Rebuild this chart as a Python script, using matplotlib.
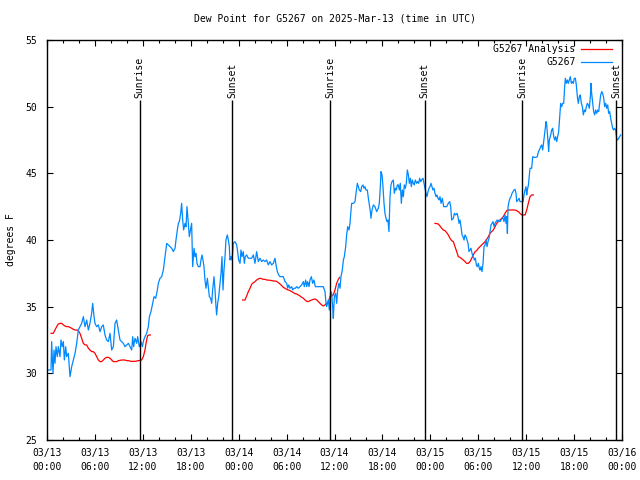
import matplotlib
matplotlib.use("Agg")
import matplotlib.pyplot as plt
from matplotlib.ticker import MultipleLocator

plt.rcParams['font.family'] = ['DejaVu Sans Mono']

title = "Dew Point for G5267 on 2025-Mar-13 (time in UTC)"
ylabel = "degrees F"

# hours since 2025-03-13 00:00 UTC
obs_hours = [0.08, 0.50, 0.58, 0.75, 0.88, 1.00, 1.13, 1.29, 1.42, 1.63, 1.75, 1.92, 2.05, 2.17, 2.34, 2.46, 2.67, 2.88, 3.09, 3.30,
             3.51, 3.72, 3.92, 4.13, 4.34, 4.55, 4.76, 4.97, 5.18, 5.38, 5.59, 5.72, 5.89, 6.01, 6.22, 6.43, 6.64, 6.85, 7.05, 7.26,
             7.47, 7.68, 7.89, 8.10, 8.31, 8.52, 8.72, 8.93, 9.14, 9.35, 9.56, 9.77, 9.98, 10.19, 10.39, 10.60, 10.73, 10.85, 11.02, 11.23,
             11.35, 11.56, 11.77, 11.94, 12.11, 12.27, 12.48, 12.69, 12.82, 13.02, 13.23, 13.40, 13.61, 13.82, 13.94, 14.15, 14.36, 14.57, 14.78, 14.99,
             15.19, 15.40, 15.61, 15.82, 16.03, 16.15, 16.32, 16.45, 16.57, 16.74, 16.86, 16.99, 17.11, 17.28, 17.41, 17.53, 17.70, 17.82, 18.11, 18.24,
             18.41, 18.53, 18.66, 18.78, 18.95, 19.16, 19.28, 19.41, 19.53, 19.66, 19.78, 19.91, 20.08, 20.20, 20.33, 20.49, 20.62, 20.74, 20.91, 21.04,
             21.16, 21.24, 21.37, 21.50, 21.66, 21.79, 21.91, 22.04, 22.16, 22.29, 22.41, 22.58, 22.71, 22.83, 22.91, 23.04, 23.17, 23.33, 23.54, 23.75,
             23.87, 24.00, 24.17, 24.29, 24.42, 24.58, 24.71, 24.83, 25.00, 25.21, 25.42, 25.63, 25.84, 26.04, 26.25, 26.46, 26.67, 26.88, 27.09, 27.30,
             27.51, 27.71, 27.92, 28.13, 28.34, 28.55, 28.68, 28.84, 29.01, 29.18, 29.39, 29.59, 29.80, 30.01, 30.14, 30.26, 30.43, 30.64, 30.76, 30.93,
             31.10, 31.26, 31.47, 31.68, 31.89, 32.10, 32.22, 32.39, 32.52, 32.64, 32.81, 32.93, 33.10, 33.27, 33.43, 33.60, 33.77, 34.18, 34.60, 34.81,
             34.94, 35.02, 35.23, 35.35, 35.52, 35.64, 35.77, 35.85, 35.98, 36.15, 36.27, 36.40, 36.56, 36.69, 36.81, 36.98, 37.11, 37.23, 37.40, 37.52,
             37.65, 37.82, 37.94, 38.07, 38.15, 38.36, 38.57, 38.69, 38.86, 38.98, 39.11, 39.28, 39.40, 39.57, 39.69, 39.82, 39.94, 40.11, 40.24, 40.36,
             40.49, 40.57, 40.70, 40.86, 41.07, 41.28, 41.49, 41.61, 41.74, 41.82, 41.95, 42.07, 42.20, 42.32, 42.45, 42.57, 42.70, 42.82, 42.95, 43.07,
             43.20, 43.37, 43.49, 43.62, 43.74, 43.87, 43.99, 44.12, 44.24, 44.37, 44.49, 44.62, 44.74, 44.87, 44.99, 45.12, 45.25, 45.37, 45.50, 45.62,
             45.75, 45.87, 45.99, 46.12, 46.29, 46.41, 46.54, 46.66, 46.79, 46.91, 47.08, 47.33, 47.46, 47.58, 47.71, 47.83, 47.96, 48.08, 48.21, 48.33,
             48.46, 48.58, 48.71, 48.83, 48.96, 49.09, 49.21, 49.34, 49.50, 49.67, 49.84, 50.05, 50.25, 50.42, 50.55, 50.67, 50.88, 51.01, 51.17, 51.34,
             51.46, 51.59, 51.71, 51.84, 51.97, 52.09, 52.22, 52.34, 52.47, 52.59, 52.72, 52.84, 52.97, 53.09, 53.22, 53.34, 53.47, 53.51, 53.64, 53.76,
             53.89, 54.01, 54.14, 54.22, 54.35, 54.47, 54.60, 54.72, 54.85, 54.97, 55.10, 55.22, 55.35, 55.48, 55.60, 55.73, 55.85, 55.98, 56.10, 56.23,
             56.35, 56.48, 56.60, 56.73, 56.85, 56.98, 57.10, 57.23, 57.35, 57.48, 57.56, 57.65, 57.73, 57.85, 57.98, 58.10, 58.23, 58.36, 58.48, 58.61,
             58.73, 58.81, 58.98, 59.11, 59.23, 59.36, 59.48, 59.61, 59.73, 59.86, 59.98, 60.07, 60.15, 60.28, 60.40, 60.48, 60.69, 60.82, 60.98, 61.23,
             61.40, 61.53, 61.65, 61.82, 61.94, 62.07, 62.24, 62.36, 62.49, 62.57, 62.69, 62.82, 62.90, 63.07, 63.20, 63.32, 63.45, 63.57, 63.70, 63.82,
             63.95, 64.07, 64.20, 64.32, 64.45, 64.57, 64.70, 64.82, 64.91, 65.03, 65.16, 65.28, 65.41, 65.53, 65.66, 65.78, 65.91, 66.03, 66.16, 66.28,
             66.41, 66.53, 66.66, 66.78, 66.91, 67.04, 67.16, 67.29, 67.41, 67.54, 67.66, 67.79, 67.91, 68.04, 68.12, 68.20, 68.33, 68.45, 68.58, 68.70,
             68.83, 68.96, 69.08, 69.21, 69.33, 69.46, 69.58, 69.71, 69.83, 69.96, 70.08, 70.21, 70.33, 70.46, 70.58, 70.71, 70.83, 70.96, 71.08, 71.21,
             71.33, 71.46, 71.58, 71.71, 71.84]
obs_values = [30.25, 30.25, 32.38, 30.0, 31.75, 30.75, 32.0, 31.25, 32.0, 31.25, 32.5, 32.0, 32.38, 31.0, 32.0, 31.25, 31.5, 29.75, 30.5, 31.0,
              31.5, 32.25, 33.25, 33.5, 33.75, 34.25, 33.5, 34.0, 33.25, 33.75, 34.5, 35.25, 34.25, 33.75, 33.5, 33.63, 33.13, 33.5, 33.63, 32.88,
              32.5, 32.38, 33.0, 31.75, 32.0, 33.75, 34.0, 33.25, 32.5, 32.38, 32.25, 32.0, 32.13, 32.25, 32.0, 31.75, 32.75, 32.0, 32.63, 32.25,
              32.75, 32.0, 32.38, 32.0, 32.5, 32.75, 33.0, 33.5, 34.25, 34.63, 35.25, 35.75, 35.63, 36.25, 36.75, 37.13, 37.25, 37.75, 38.75, 39.75,
              39.63, 39.5, 39.38, 39.13, 39.38, 40.0, 40.75, 41.25, 41.38, 42.0, 42.75, 41.5, 40.75, 41.25, 41.0, 42.5, 41.25, 40.25, 41.25, 38.0,
              39.38, 38.75, 39.0, 38.25, 38.0, 38.0, 38.5, 38.88, 38.5, 38.0, 37.0, 36.38, 37.13, 36.5, 35.75, 35.63, 35.25, 36.25, 37.25, 36.25,
              35.0, 34.38, 35.25, 35.75, 36.75, 37.5, 38.75, 36.25, 37.75, 38.75, 40.0, 40.38, 40.0, 39.5, 38.5, 38.75, 38.5, 39.75, 39.88, 39.63,
              39.13, 38.5, 38.25, 39.25, 38.75, 39.13, 38.25, 38.75, 38.88, 38.63, 38.63, 38.63, 38.88, 38.25, 39.13, 38.38, 38.63, 38.38, 38.5, 38.38,
              38.5, 38.13, 38.38, 38.13, 38.25, 38.63, 38.13, 37.63, 37.38, 37.25, 37.25, 37.25, 36.88, 36.75, 36.38, 36.63, 36.38, 36.5, 36.25, 36.38,
              36.38, 36.5, 36.38, 36.5, 36.63, 36.88, 36.5, 37.0, 36.5, 36.88, 36.5, 37.0, 37.25, 36.75, 37.0, 36.5, 36.5, 36.5, 36.5, 36.13,
              35.25, 35.0, 35.5, 34.75, 36.13, 36.0, 35.0, 34.13, 35.75, 36.0, 35.25, 36.25, 36.75, 36.38, 37.25, 37.75, 38.5, 38.75, 39.5, 40.38,
              41.0, 40.75, 41.25, 42.25, 42.75, 42.75, 42.88, 43.5, 44.25, 44.0, 43.75, 43.63, 44.0, 44.13, 43.88, 44.0, 43.75, 43.75, 43.13, 42.63,
              42.13, 41.63, 42.25, 42.63, 42.5, 42.13, 42.38, 42.75, 44.0, 45.13, 44.88, 44.0, 42.75, 42.0, 41.63, 41.38, 41.5, 40.63, 43.25, 44.13,
              44.38, 44.5, 43.5, 43.88, 43.75, 44.13, 44.13, 43.75, 44.25, 42.75, 43.75, 43.25, 44.13, 43.88, 44.25, 45.25, 44.88, 44.25, 44.63, 44.0,
              44.5, 44.25, 44.13, 44.5, 44.25, 44.38, 44.25, 44.63, 44.38, 44.5, 44.63, 43.88, 43.5, 43.25, 43.63, 43.88, 44.0, 44.25, 44.0, 43.75,
              43.88, 43.5, 43.25, 43.38, 43.13, 43.0, 43.25, 42.75, 43.13, 42.5, 42.5, 42.5, 42.75, 42.88, 42.5, 41.5, 41.63, 42.0, 41.88, 42.0,
              41.75, 41.25, 41.5, 41.0, 40.38, 40.25, 40.0, 40.38, 40.25, 40.0, 39.75, 39.13, 39.25, 39.38, 39.0, 38.75, 38.63, 38.5, 38.63, 38.13,
              38.0, 38.25, 37.88, 37.75, 38.0, 37.63, 38.25, 39.5, 39.63, 40.0, 39.5, 39.88, 40.13, 40.63, 41.13, 41.25, 41.38, 41.0, 41.25, 41.38,
              41.5, 41.38, 41.5, 41.38, 41.5, 41.63, 41.63, 41.38, 41.88, 41.25, 41.75, 40.5, 42.5, 42.88, 43.13, 43.25, 43.5, 43.63, 43.75, 43.8,
              43.5, 42.88, 43.0, 43.13, 42.88, 42.88, 42.88, 42.88, 43.38, 43.75, 44.0, 43.38, 43.75, 44.13, 44.88, 45.38, 45.38, 46.25, 46.2, 46.2,
              46.25, 46.63, 46.75, 47.0, 47.13, 46.75, 47.63, 48.25, 48.88, 48.63, 47.75, 46.63, 47.5, 47.88, 48.25, 48.38, 47.75, 47.5, 47.75, 47.38,
              47.75, 48.13, 49.25, 50.25, 50.0, 50.25, 50.25, 51.5, 52.13, 51.75, 52.0, 51.75, 52.0, 52.25, 51.75, 51.88, 51.75, 52.13, 52.13, 51.63,
              50.75, 50.25, 50.75, 50.88, 50.25, 50.0, 49.38, 49.75, 49.63, 50.0, 50.25, 50.13, 49.88, 50.75, 51.75, 51.0, 50.25, 49.63, 49.38, 49.75,
              49.5, 49.75, 49.63, 50.25, 50.88, 51.13, 51.0, 50.63, 50.0, 50.25, 49.88, 50.13, 49.5, 49.63, 49.13, 48.75, 48.38, 48.25, 48.38, 48.25,
              47.63, 47.5, 47.63, 47.75, 47.88]

# analysis series (three separate runs)
ana1_hours = [0.50, 0.79, 1.00, 1.21, 1.42, 1.63, 1.84, 2.05, 2.25, 2.46, 2.67, 2.88, 3.09, 3.30, 3.51, 3.72, 3.92, 4.13, 4.34, 4.55,
              4.76, 4.97, 5.18, 5.38, 5.59, 5.80, 6.01, 6.22, 6.43, 6.64, 6.85, 7.05, 7.26, 7.47, 7.68, 7.89, 8.10, 8.31, 8.52, 8.72,
              8.93, 9.35, 9.77, 9.98, 10.19, 10.52, 10.81, 11.02, 11.44, 11.85, 12.06, 12.27, 12.40, 12.52, 12.61, 12.82, 12.94]
ana1_values = [33.0, 33.0, 33.25, 33.5, 33.7, 33.75, 33.75, 33.63, 33.55, 33.5, 33.5, 33.45, 33.38, 33.3, 33.25, 33.25, 33.2, 33.0, 32.63, 32.25,
               32.13, 32.13, 31.88, 31.75, 31.63, 31.63, 31.5, 31.25, 31.0, 30.88, 30.88, 31.0, 31.13, 31.2, 31.2, 31.13, 31.0, 30.88, 30.88, 30.88,
               30.95, 31.0, 31.0, 30.95, 30.95, 30.9, 30.9, 30.9, 30.95, 31.0, 31.25, 31.75, 32.25, 32.63, 32.83, 32.88, 32.88]
ana2_hours = [24.50, 24.79, 25.00, 25.21, 25.42, 25.63, 25.84, 26.04, 26.25, 26.46, 26.67, 26.88, 27.09, 27.30, 27.51, 27.92, 28.34, 28.76, 28.97, 29.18,
              29.39, 29.59, 29.80, 30.01, 30.22, 30.43, 30.64, 30.85, 31.05, 31.26, 31.47, 31.68, 31.89, 32.10, 32.31, 32.52, 32.72, 32.93, 33.14, 33.35,
              33.56, 33.77, 33.98, 34.18, 34.39, 34.60, 34.81, 35.02, 35.23, 35.44, 35.64, 35.85, 36.06, 36.27, 36.48, 36.65]
ana2_values = [35.5, 35.5, 35.8, 36.13, 36.38, 36.68, 36.8, 36.88, 37.0, 37.08, 37.13, 37.1, 37.05, 37.05, 37.0, 36.98, 36.93, 36.9, 36.8, 36.7,
               36.58, 36.45, 36.38, 36.3, 36.25, 36.2, 36.13, 36.05, 35.98, 35.95, 35.88, 35.8, 35.7, 35.63, 35.5, 35.4, 35.38, 35.45, 35.5, 35.55,
               35.58, 35.5, 35.38, 35.25, 35.13, 35.05, 35.13, 35.25, 35.38, 35.75, 35.8, 35.88, 36.25, 36.75, 37.05, 37.2]
ana3_hours = [48.58, 49.00, 49.21, 49.42, 49.63, 49.84, 50.05, 50.25, 50.46, 50.67, 50.88, 51.09, 51.30, 51.51, 51.71, 51.92, 52.13, 52.34, 52.55, 52.76,
              52.97, 53.18, 53.38, 53.60, 53.80, 54.01, 54.22, 54.43, 54.64, 54.85, 55.06, 55.27, 55.47, 55.68, 55.89, 56.10, 56.31, 56.52, 56.73, 56.94,
              57.14, 57.35, 57.56, 57.77, 58.19, 58.60, 58.81, 59.02, 59.23, 59.44, 59.65, 59.86, 60.07, 60.27, 60.48, 60.69, 60.90]
ana3_values = [41.25, 41.2, 41.05, 40.88, 40.75, 40.7, 40.55, 40.38, 40.13, 39.95, 39.88, 39.5, 39.13, 38.75, 38.7, 38.6, 38.5, 38.38, 38.25, 38.25,
               38.38, 38.63, 38.88, 39.13, 39.2, 39.38, 39.5, 39.63, 39.75, 39.88, 40.05, 40.25, 40.5, 40.63, 40.75, 41.0, 41.25, 41.38, 41.5, 41.63,
               41.75, 42.0, 42.2, 42.25, 42.25, 42.25, 42.2, 42.13, 42.0, 41.88, 41.88, 41.88, 42.25, 42.75, 43.25, 43.38, 43.38]

event_hours = [11.6, 23.2, 35.45, 47.27, 59.53, 71.29]
event_labels = ["Sunrise", "Sunset", "Sunrise", "Sunset", "Sunrise", "Sunset"]

xtick_hours = [0, 6, 12, 18, 24, 30, 36, 42, 48, 54, 60, 66, 72]
xtick_labels = ["03/13\n00:00", "03/13\n06:00", "03/13\n12:00", "03/13\n18:00",
                "03/14\n00:00", "03/14\n06:00", "03/14\n12:00", "03/14\n18:00",
                "03/15\n00:00", "03/15\n06:00", "03/15\n12:00", "03/15\n18:00",
                "03/16\n00:00"]
yticks = [25, 30, 35, 40, 45, 50, 55]

RED = "#ff0000"
BLUE = "#0088ff"
FS = 7
LW = 0.9

fig = plt.figure(figsize=(6.4, 4.8), dpi=100)
ax = fig.add_axes([47/640, 1 - 440/480, 575/640, 400/480])

ax.plot(ana1_hours, ana1_values, color=RED, lw=LW, label="G5267 Analysis")
ax.plot(ana2_hours, ana2_values, color=RED, lw=LW)
ax.plot(ana3_hours, ana3_values, color=RED, lw=LW)
ax.plot(obs_hours, obs_values, color=BLUE, lw=LW, label="G5267")

ax.vlines(event_hours, 25, 50.5, color="black", lw=1.0)
for h, lab in zip(event_hours, event_labels):
    ax.text(h, 50.65, lab, rotation=90, ha="center", va="bottom", fontsize=FS)

ax.set_xlim(0, 72)
ax.set_ylim(25, 55)
ax.set_xticks(xtick_hours)
ax.set_xticklabels(xtick_labels, fontsize=FS, linespacing=1.5)
ax.xaxis.set_minor_locator(MultipleLocator(2))
ax.set_yticks(yticks)
ax.set_yticklabels([str(v) for v in yticks], fontsize=FS)
ax.tick_params(which="both", direction="in", top=True, right=True, width=0.8)
ax.tick_params(which="major", length=4.5)
ax.tick_params(which="minor", length=2.5)
ax.tick_params(axis="y", pad=7)
ax.tick_params(axis="x", pad=6)
for s in ax.spines.values():
    s.set_linewidth(1.0)

ax.set_title(title, fontsize=FS, pad=13)
ax.set_ylabel(ylabel, fontsize=FS)
ax.yaxis.set_label_coords(-31/575, 0.5)

ax.legend(loc="upper right", bbox_to_anchor=(0.982, 0.99), frameon=False,
          markerfirst=False, fontsize=FS, handlelength=3.2, handletextpad=0.5,
          labelspacing=0.35, borderpad=0, borderaxespad=0)

fig.savefig("out.png", dpi=100)
